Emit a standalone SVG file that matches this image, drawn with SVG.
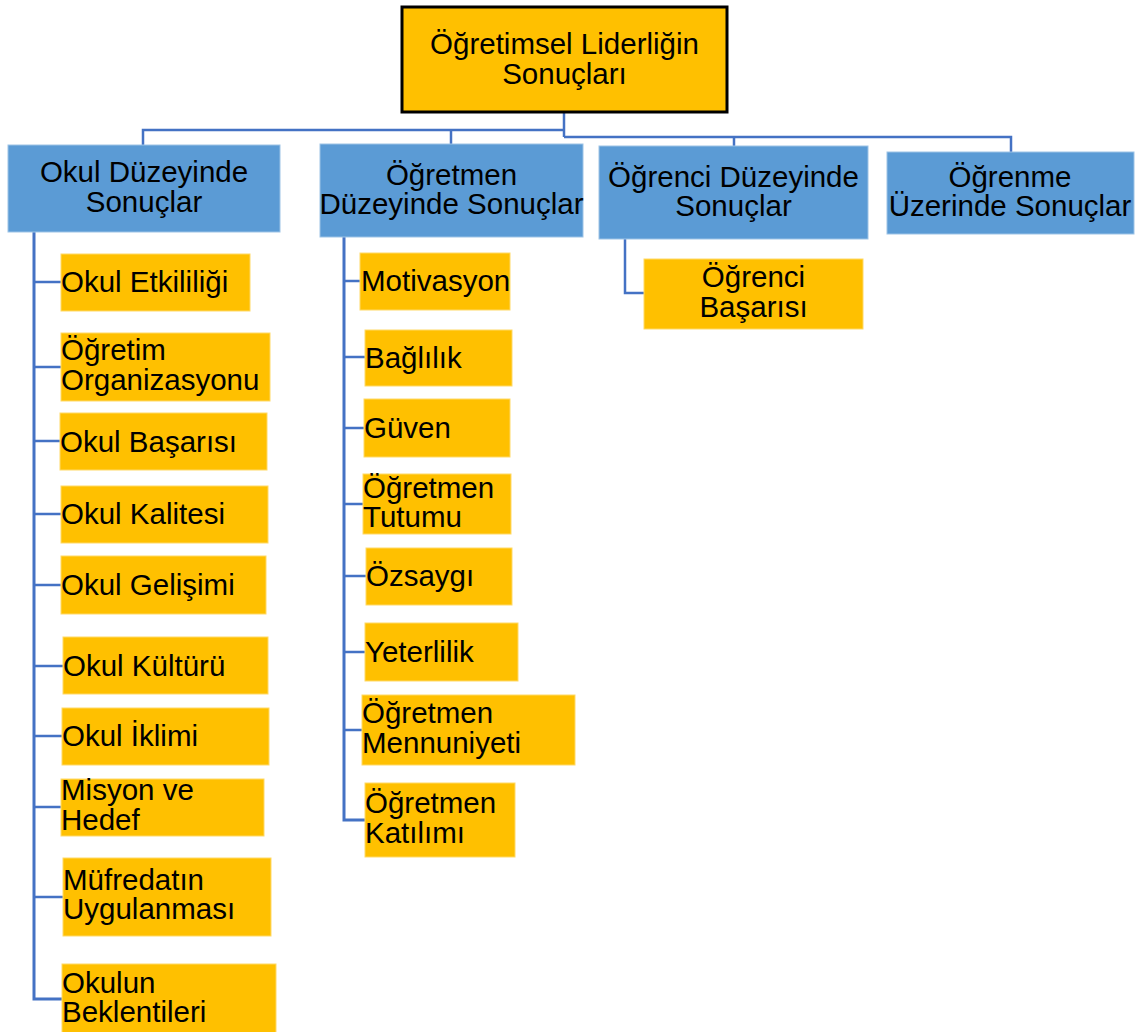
<svg xmlns="http://www.w3.org/2000/svg" width="1136" height="1032" viewBox="0 0 1136 1032">
  <style>
    text { font-family: "Liberation Sans", Arial, sans-serif; font-size: 29.5px; fill: #000; }
    .root { fill: #FFC000; stroke: #000; stroke-width: 3; }
    .head { fill: #5B9BD5; stroke: #9DC3E6; stroke-width: 1; }
    .item { fill: #FFC000; stroke: #FFD966; stroke-width: 1; }
    .c { text-anchor: middle; }
    .link { fill: none; stroke: #4472C4; stroke-width: 2.5; }
    .spine { stroke-width: 3; }
  </style>
  <rect width="1136" height="1032" fill="#fff"/>

  <!-- connectors -->
  <g id="connectors">
    <path class="link" d="M564,112 V137"/>
    <path class="link" d="M143,145 V130 H564"/>
    <path class="link" d="M451,144 V130"/>
    <path class="link" d="M564,137 H1011 V152"/>
    <path class="link" d="M734,137 V146"/>
    <!-- left column spine and branches -->
    <path class="link spine" d="M34,232 V999 H62"/>
    <path class="link" d="M34,282 H61 M34,367 H61 M34,441 H60 M34,514 H61 M34,585 H61 M34,666 H63 M34,736 H62 M34,807 H61 M34,897 H63"/>
    <!-- middle column spine and branches -->
    <path class="link spine" d="M344,237 V820 H365"/>
    <path class="link" d="M344,281 H360 M344,357 H365 M344,428 H364 M344,504 H363 M344,576 H366 M344,652 H365 M344,730 H362"/>
    <!-- third column -->
    <path class="link" d="M625,239 V293 H645"/>
  </g>

  <g id="root">
    <rect class="root" x="402" y="7" width="325" height="105"/>
    <text class="c" x="564.5" y="54">Öğretimsel Liderliğin</text>
    <text class="c" x="564.5" y="84">Sonuçları</text>
  </g>

  <g id="okul-duzeyinde">
    <rect class="head" x="8" y="145" width="272" height="87"/>
    <text class="c" x="144" y="182">Okul Düzeyinde</text>
    <text class="c" x="144" y="212">Sonuçlar</text>
  </g>
  <g id="ogretmen-duzeyinde">
    <rect class="head" x="320" y="144" width="263" height="93"/>
    <text class="c" x="451.5" y="185">Öğretmen</text>
    <text class="c" x="451.5" y="214">Düzeyinde Sonuçlar</text>
  </g>
  <g id="ogrenci-duzeyinde">
    <rect class="head" x="599" y="146" width="269" height="93"/>
    <text class="c" x="733.5" y="187">Öğrenci Düzeyinde</text>
    <text class="c" x="733.5" y="216">Sonuçlar</text>
  </g>
  <g id="ogrenme-uzerinde">
    <rect class="head" x="887" y="152" width="247" height="82"/>
    <text class="c" x="1010" y="187">Öğrenme</text>
    <text class="c" x="1010" y="216">Üzerinde Sonuçlar</text>
  </g>

  <!-- school level items -->
  <g id="okul-etkililigi">
    <rect class="item" x="61" y="254" width="189" height="57"/>
    <text x="61" y="292">Okul Etkililiği</text>
  </g>
  <g id="ogretim-organizasyonu">
    <rect class="item" x="61" y="333" width="209" height="68"/>
    <text x="61" y="360">Öğretim</text>
    <text x="61" y="390">Organizasyonu</text>
  </g>
  <g id="okul-basarisi">
    <rect class="item" x="60" y="413" width="207" height="57"/>
    <text x="60" y="452">Okul Başarısı</text>
  </g>
  <g id="okul-kalitesi">
    <rect class="item" x="61" y="486" width="207" height="57"/>
    <text x="61" y="524">Okul Kalitesi</text>
  </g>
  <g id="okul-gelisimi">
    <rect class="item" x="61" y="556" width="205" height="58"/>
    <text x="61" y="595">Okul Gelişimi</text>
  </g>
  <g id="okul-kulturu">
    <rect class="item" x="63" y="637" width="205" height="57"/>
    <text x="63" y="676">Okul Kültürü</text>
  </g>
  <g id="okul-iklimi">
    <rect class="item" x="62" y="708" width="207" height="57"/>
    <text x="62" y="746">Okul İklimi</text>
  </g>
  <g id="misyon-hedef">
    <rect class="item" x="61" y="779" width="203" height="57"/>
    <text x="61" y="800">Misyon ve</text>
    <text x="61" y="830">Hedef</text>
  </g>
  <g id="mufredat">
    <rect class="item" x="63" y="858" width="208" height="78"/>
    <text x="63" y="890">Müfredatın</text>
    <text x="63" y="919">Uygulanması</text>
  </g>
  <g id="okulun-beklentileri">
    <rect class="item" x="62" y="964" width="214" height="70"/>
    <text x="62" y="993">Okulun</text>
    <text x="62" y="1022">Beklentileri</text>
  </g>

  <!-- teacher level items -->
  <g id="motivasyon">
    <rect class="item" x="360" y="253" width="150" height="57"/>
    <text x="361" y="291">Motivasyon</text>
  </g>
  <g id="baglilik">
    <rect class="item" x="365" y="330" width="147" height="56"/>
    <text x="365" y="368">Bağlılık</text>
  </g>
  <g id="guven">
    <rect class="item" x="364" y="399" width="146" height="58"/>
    <text x="364" y="438">Güven</text>
  </g>
  <g id="ogretmen-tutumu">
    <rect class="item" x="363" y="474" width="148" height="60"/>
    <text x="363" y="498">Öğretmen</text>
    <text x="363" y="527">Tutumu</text>
  </g>
  <g id="ozsaygi">
    <rect class="item" x="366" y="548" width="146" height="57"/>
    <text x="366" y="586">Özsaygı</text>
  </g>
  <g id="yeterlilik">
    <rect class="item" x="365" y="623" width="153" height="58"/>
    <text x="365" y="662">Yeterlilik</text>
  </g>
  <g id="ogretmen-memnuniyeti">
    <rect class="item" x="362" y="695" width="213" height="70"/>
    <text x="362" y="723">Öğretmen</text>
    <text x="362" y="753">Mennuniyeti</text>
  </g>
  <g id="ogretmen-katilimi">
    <rect class="item" x="365" y="783" width="150" height="74"/>
    <text x="365" y="813">Öğretmen</text>
    <text x="365" y="843">Katılımı</text>
  </g>

  <!-- student level item -->
  <g id="ogrenci-basarisi">
    <rect class="item" x="644" y="259" width="219" height="70"/>
    <text class="c" x="753.5" y="287">Öğrenci</text>
    <text class="c" x="753.5" y="317">Başarısı</text>
  </g>
</svg>
